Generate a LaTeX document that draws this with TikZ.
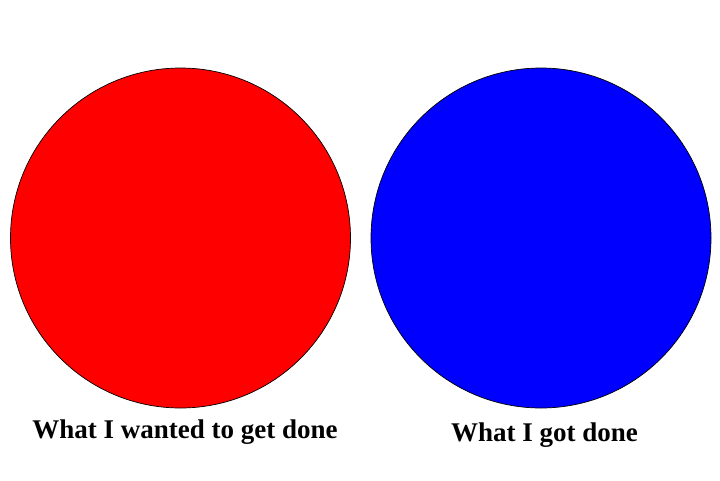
\documentclass[tikz,border=0pt]{standalone}
\usepackage{fontspec}
\setmainfont{Liberation Serif}
\tikzset{
  disc/.style={circle, draw=black, line width=0.7pt, minimum size=340pt, inner sep=0pt},
  caption/.style={font=\fontsize{27}{30}\selectfont\bfseries, inner sep=0pt, anchor=base}
}
\begin{document}
\begin{tikzpicture}[x=1pt,y=-1pt]
\useasboundingbox (0,0) rectangle (720,480);
\node[disc, fill=red] (wanted) at (180.5,238) {};
\node[disc, fill=blue] (got) at (541,238) {};
\node[caption] (wantedlabel) at (185,438) {What I wanted to get done};
\node[caption] (gotlabel) at (544.5,441) {What I got done};
\end{tikzpicture}
\end{document}
